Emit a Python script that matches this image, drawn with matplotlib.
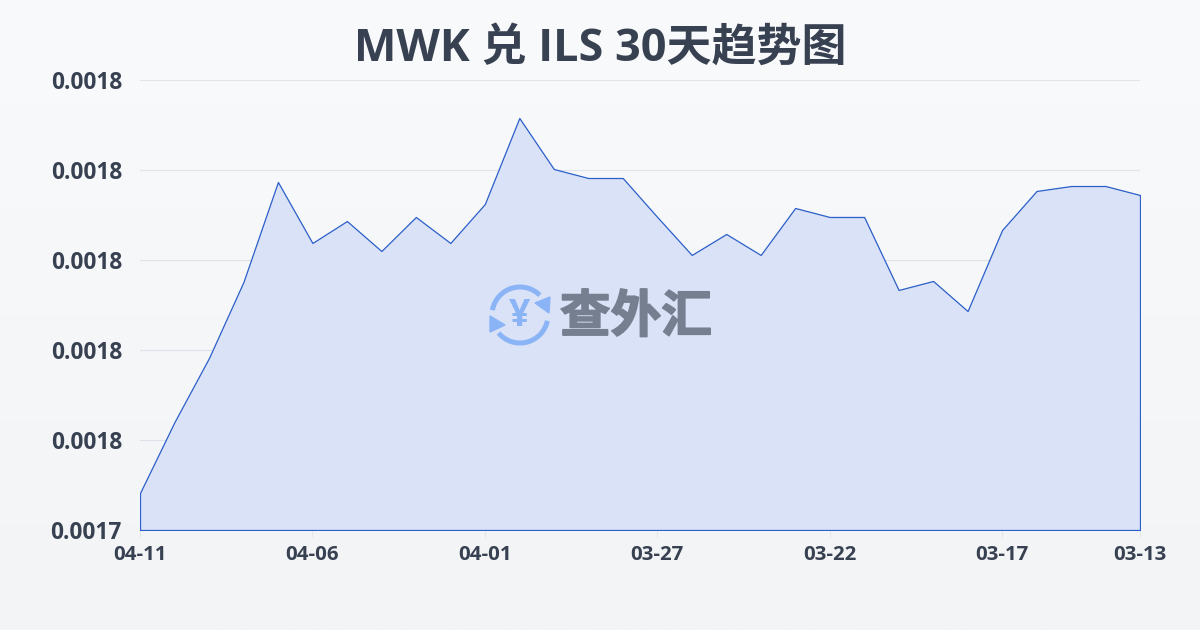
import numpy as np
import matplotlib
matplotlib.use("Agg")
import matplotlib.pyplot as plt
import matplotlib.patheffects as pe
from matplotlib.patches import Arc, Polygon

plt.rcParams["font.family"] = ["Open Sans", "Noto Sans CJK SC", "DejaVu Sans"]

# newest first, as on the chart
dates = ["04-11", "04-06", "04-01", "03-27", "03-22", "03-17", "03-13"]
date_pos = [0, 5, 10, 15, 20, 25, 29]
rates = [
    0.00175411, 0.00176200, 0.00176911, 0.00177756, 0.00178867, 0.00178189,
    0.00178433, 0.00178100, 0.00178478, 0.00178189, 0.00178622, 0.00179578,
    0.00179011, 0.00178911, 0.00178911, 0.00178478, 0.00178056, 0.00178289,
    0.00178056, 0.00178578, 0.00178478, 0.00178478, 0.00177667, 0.00177767,
    0.00177433, 0.00178333, 0.00178767, 0.00178822, 0.00178822, 0.00178722,
]
y_ticks = [0.00175, 0.00176, 0.00177, 0.00178, 0.00179, 0.00180]
y_labels = ["0.0017", "0.0018", "0.0018", "0.0018", "0.0018", "0.0018"]

TEXT = "#374151"
LINE = "#2c5fc9"

fig = plt.figure(figsize=(12, 6.3), dpi=100)

# page background
bg = fig.add_axes([0, 0, 1, 1], zorder=0)
bg.imshow(
    np.linspace(0, 1, 256).reshape(-1, 1),
    aspect="auto",
    extent=(0, 1, 0, 1),
    cmap=matplotlib.colors.LinearSegmentedColormap.from_list("bg", ["#f9fafb", "#f3f4f6"]),
)
bg.axis("off")

# plot area: x 140..1140, y 80..530 in pixels
ax = fig.add_axes([140 / 1200, 100 / 630, 1000 / 1200, 450 / 630], zorder=1)
ax.patch.set_alpha(0)
x = np.arange(len(rates))
ax.fill_between(
    x, rates, y_ticks[0],
    facecolor="#d9e2f6", edgecolor=LINE, linewidth=0.9, zorder=2,
)
ax.set_xlim(0, len(rates) - 1)
ax.set_ylim(y_ticks[0], y_ticks[-1])
ax.set_yticks(y_ticks, y_labels)
ax.set_xticks(date_pos, dates)
ax.grid(axis="y", color="#8f9bb3", alpha=0.22, linewidth=0.8, zorder=3)
for spine in ax.spines.values():
    spine.set_visible(False)
ax.tick_params(axis="y", length=0, pad=13, labelsize=16.3, labelcolor=TEXT)
ax.tick_params(axis="x", length=5, width=0.8, color="#e3e6eb", pad=6, labelsize=14.7, labelcolor=TEXT)
for lab in ax.get_xticklabels() + ax.get_yticklabels():
    lab.set_fontweight("bold")

fig.text(0.5, 1 - 49 / 630, "MWK 兑 ILS 30天趋势图", ha="center", va="center",
         fontsize=32.4, fontweight="bold", color=TEXT)

# watermark, in pixel coordinates
logo = fig.add_axes([0, 0, 1, 1], zorder=4)
logo.set_xlim(0, 1200)
logo.set_ylim(630, 0)
logo.axis("off")
BLUE = "#8ab4f6"
logo.add_patch(Arc((520, 315), 56, 56, theta1=190, theta2=315, color=BLUE, lw=3.6))
logo.add_patch(Arc((520, 315), 56, 56, theta1=12, theta2=140, color=BLUE, lw=3.6))
logo.add_patch(Polygon([(550, 297), (549, 313), (535, 303)], color=BLUE))
logo.add_patch(Polygon([(490, 316), (490, 332), (505, 325)], color=BLUE))
logo.text(520, 316, "¥", ha="center", va="center", fontsize=27, fontweight="bold", color=BLUE)
logo.text(636, 319, "查外汇", ha="center", va="center", fontsize=36.5, fontweight="bold", color="#767f90",
          path_effects=[pe.withStroke(linewidth=1.2, foreground="#767f90")])

fig.savefig("out.png", dpi=100)
